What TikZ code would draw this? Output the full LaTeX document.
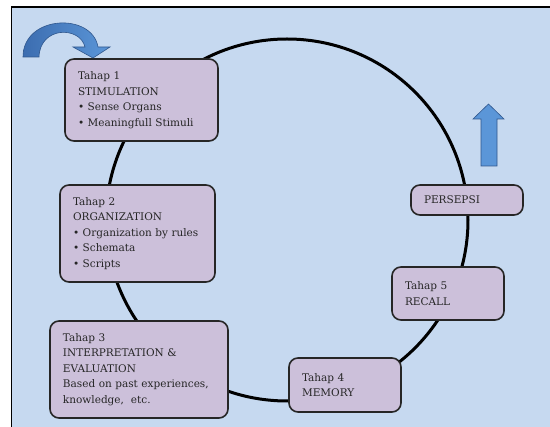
\documentclass[tikz,border=0pt]{standalone}
\usepackage{fontspec}
\setmainfont{DejaVu Serif}
\definecolor{bgblue}{HTML}{C6D9F0}
\definecolor{boxlilac}{HTML}{CCC0DA}
\definecolor{arrowdark}{HTML}{3C6DB0}
\definecolor{arrowlight}{HTML}{5B96D8}
\tikzset{
  stagebox/.style={draw=black!85, line width=1.6pt, fill=boxlilac, rounded corners=9pt,
    align=left, inner xsep=13pt, font=\fontsize{10.5}{15.5}\selectfont, text=black!85},
}
\begin{document}
\begin{tikzpicture}[x=1pt, y=-1pt]
    \useasboundingbox (0,0) rectangle (550,427);
    \fill[white] (0,0) rectangle (550,427);
    \draw[line width=1.5pt, fill=bgblue] (11.5,7) rectangle (560,440);
    % ring
    \coordinate (ringcenter) at (287,220);
    \draw[line width=3pt] (ringcenter) circle (181);
    % stages
    \node[stagebox, minimum width=153pt, minimum height=82pt, text width=127pt] (stage1) at (141.5,100)
        {Tahap 1\\STIMULATION\\\textbullet\ Sense Organs\\\textbullet\ Meaningfull Stimuli};
    \node[stagebox, minimum width=155pt, minimum height=97pt, text width=129pt] (stage2) at (137.5,233.5)
        {Tahap 2\\ORGANIZATION\\\textbullet\ Organization by rules\\\textbullet\ Schemata\\\textbullet\ Scripts};
    \node[stagebox, minimum width=178pt, minimum height=97pt, text width=152pt] (stage3) at (139,369.5)
        {Tahap 3\\INTERPRETATION \&\\EVALUATION\\Based on past experiences,\\knowledge,\ \ etc.};
    \node[stagebox, minimum width=112pt, minimum height=54pt, text width=86pt] (stage4) at (345,385)
        {Tahap 4\\MEMORY};
    \node[stagebox, minimum width=112pt, minimum height=53pt, text width=86pt] (stage5) at (448,293.5)
        {Tahap 5\\RECALL};
    \node[stagebox, minimum width=112pt, minimum height=30pt, text width=86pt] (persepsi) at (467,200)
        {PERSEPSI};
    % arrows
    \shade[left color=arrowdark, right color=arrowlight, draw=arrowdark!80!black, line width=0.6pt]
        (23,57) .. controls (23,15) and (92,12) .. (98,47) -- (110,47) -- (93,58) -- (73,47) -- (85,47)
        .. controls (80,26) and (40,26) .. (39,57) -- cycle;
    \draw[fill=arrowlight, draw=arrowdark!80!black, line width=0.6pt]
        (481,166) -- (481,119) -- (473,119) -- (488.5,104) -- (504,119) -- (497,119) -- (497,166) -- cycle;
\end{tikzpicture}
\end{document}
